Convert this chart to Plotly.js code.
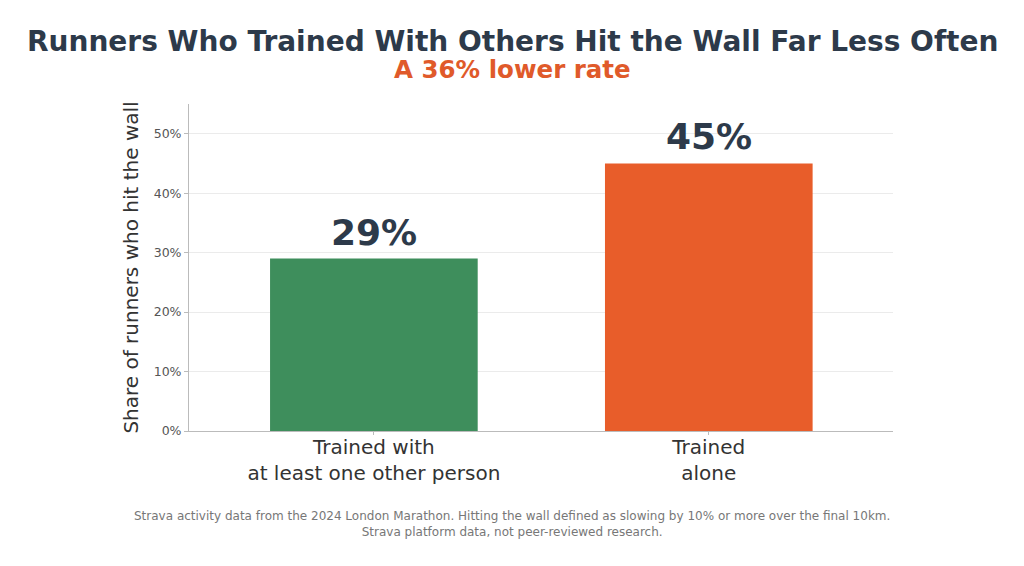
<!DOCTYPE html>
<html><head><meta charset="utf-8">
<script src="https://cdn.plot.ly/plotly-3.0.1.min.js"></script>
<style>html,body{margin:0;padding:0;background:#fff;}#chart{width:1024px;height:566px;}</style>
</head><body><div id="chart"></div>
<script>
const categories = ["Trained with<br>at least one other person", "Trained<br>alone"];
const values = [29, 45];
const valueLabels = ["29%", "45%"];
const barColors = ["#3e8e5c", "#e85d2a"];
const yTicks = [0, 10, 20, 30, 40, 50];
const yTickLabels = ["0%", "10%", "20%", "30%", "40%", "50%"];

const FONT = "DejaVu Sans, sans-serif";
const dark = "#2d3a4a";
const CX = -29;

const trace = {
  type: "bar",
  x: categories,
  y: values,
  marker: {color: barColors},
  width: 0.62,
  hoverinfo: "skip"
};

const annotations = categories.map((c, i) => ({
  x: c, y: values[i], xref: "x", yref: "y",
  text: "<b>" + valueLabels[i] + "</b>",
  showarrow: false, yanchor: "bottom", yshift: 4,
  font: {family: FONT, size: 36, color: dark}
}));

annotations.push({
  xref: "paper", yref: "paper", x: 0.5, y: 1, xanchor: "center", yanchor: "bottom",
  showarrow: false, yshift: 44, xshift: CX,
  text: "<b>Runners Who Trained With Others Hit the Wall Far Less Often</b>",
  font: {family: FONT, size: 28, color: dark}
});
annotations.push({
  xref: "paper", yref: "paper", x: 0.5, y: 1, xanchor: "center", yanchor: "bottom",
  showarrow: false, yshift: 18, xshift: CX,
  text: "<b>A 36% lower rate</b>",
  font: {family: FONT, size: 24.5, color: "#e05a2a"}
});
annotations.push({
  xref: "paper", yref: "paper", x: 0.5, y: 0, xanchor: "center", yanchor: "top",
  showarrow: false, yshift: -76, xshift: CX,
  text: "Strava activity data from the 2024 London Marathon. Hitting the wall defined as slowing by 10% or more over the final 10km.<br>Strava platform data, not peer-reviewed research.",
  font: {family: FONT, size: 12, color: "#777"}
});

const layout = {
  width: 1024, height: 566,
  margin: {l: 189, r: 131, t: 104, b: 135},
  paper_bgcolor: "#fff", plot_bgcolor: "#fff",
  showlegend: false,
  font: {family: FONT},
  xaxis: {
    range: [-0.552, 1.55],
    showline: true, linecolor: "#bbb", linewidth: 1,
    ticks: "outside", ticklen: 3, tickcolor: "#bbb",
    ticklabelstandoff: -5,
    tickfont: {family: FONT, size: 20, color: "#333"},
    showgrid: false, zeroline: false, fixedrange: true
  },
  yaxis: {
    range: [0, 55],
    tickvals: yTicks, ticktext: yTickLabels,
    showline: true, linecolor: "#bbb", linewidth: 1,
    ticks: "outside", ticklen: 4, tickcolor: "#bbb",
    tickfont: {family: FONT, size: 12.5, color: "#555"},
    showgrid: true, gridcolor: "#ebebeb", gridwidth: 1,
    zeroline: false,
    title: {text: "Share of runners who hit the wall", font: {family: FONT, size: 20, color: "#333"}, standoff: 9}
  },
  annotations: annotations
};

Plotly.newPlot("chart", [trace], layout, {displayModeBar: false, staticPlot: true});
</script>
</body></html>
